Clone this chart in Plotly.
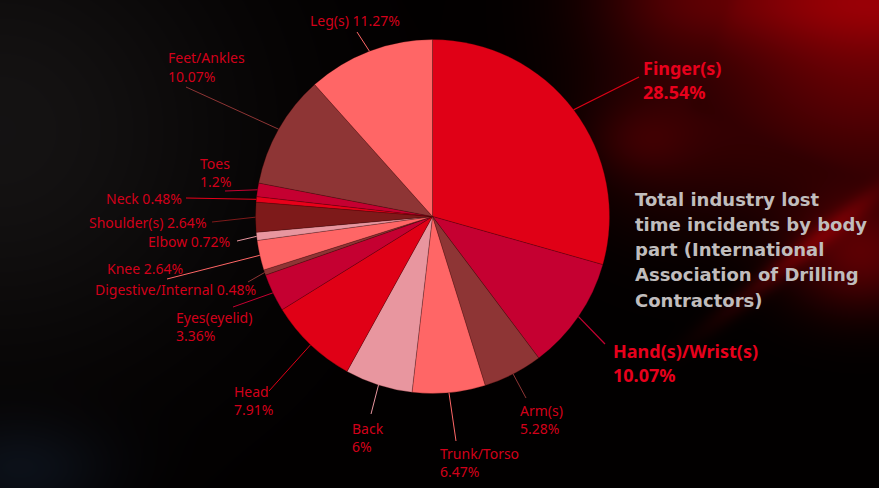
import base64, struct, zlib
import numpy as np
import plotly.graph_objects as go

# ---------------- data ----------------
labels = ["Finger(s)", "Hand(s)/Wrist(s)", "Arm(s)", "Trunk/Torso", "Back", "Head",
          "Eyes(eyelid)", "Digestive/Internal", "Knee", "Elbow", "Shoulder(s)", "Neck",
          "Toes", "Feet/Ankles", "Leg(s)"]
values = [28.54, 10.07, 5.28, 6.47, 6.0, 7.91, 3.36, 0.48, 2.64, 0.72, 2.64, 0.48, 1.2, 10.07, 11.27]
value_text = ["28.54%", "10.07%", "5.28%", "6.47%", "6%", "7.91%", "3.36%", "0.48%",
              "2.64%", "0.72%", "2.64%", "0.48%", "1.2%", "10.07%", "11.27%"]
title_lines = ["Total industry lost", "time incidents by body", "part (International",
               "Association of Drilling", "Contractors)"]

# ---------------- styles / layout ----------------
W, H = 879, 488
RED, CRIMSON, BROWN, SALMON, PINK, MAROON = "#E00016", "#C50031", "#8E3535", "#FF6666", "#E8969F", "#7E1A1A"
slice_colors = [RED, CRIMSON, BROWN, SALMON, PINK, RED, CRIMSON, BROWN, SALMON, PINK,
                MAROON, "#E8001A", CRIMSON, BROWN, SALMON]
CX, CY, R = 432.5, 216.5, 177.0

# label layout: (left x px, first-line middle y px, two-line?, leader end x, leader end y, bold)
label_layout = [
    (642, 68, True, 639, 77, True),     # Finger
    (612, 351, True, 605, 344, True),   # Hand
    (519, 410, True, 526, 398, False),  # Arm
    (439, 453, True, 456, 441, False),  # Trunk
    (351, 428, True, 371, 414, False),  # Back
    (233, 391, True, 269, 391, False),  # Head
    (175, 317, True, 233, 307, False),  # Eyes
    (94, 289, False, 248, 282, False),  # Digestive
    (106, 268, False, 167, 279, False), # Knee
    (147, 241, False, 237, 241, False), # Elbow
    (88, 222, False, 212, 222, False),  # Shoulder
    (105, 198, False, 186, 198, False), # Neck
    (199, 163, True, 225, 191, False),  # Toes
    (167, 58, True, 186, 87, False),    # Feet
    (309, 20, False, 357, 32, False),   # Leg
]


def px2paper(x, y):
    return x / W, 1 - y / H


# ---------------- background image ----------------
def make_png(arr):
    h, w, _ = arr.shape
    raw = b"".join(b"\x00" + arr[i].tobytes() for i in range(h))

    def chunk(t, d):
        return struct.pack(">I", len(d)) + t + d + struct.pack(">I", zlib.crc32(t + d) & 0xFFFFFFFF)

    return (b"\x89PNG\r\n\x1a\n" + chunk(b"IHDR", struct.pack(">IIBBBBB", w, h, 8, 2, 0, 0, 0))
            + chunk(b"IDAT", zlib.compress(raw, 9)) + chunk(b"IEND", b""))


def sig(z):
    return 1 / (1 + np.exp(-z))


yy, xx = np.mgrid[0:H, 0:W].astype(float)
red = np.full((H, W), 2.0)
gray = 19 * np.exp(-(xx / 240) ** 2 - ((yy - 130) / 230) ** 2)
blue = 16 * np.exp(-((xx - 20) / 90) ** 2 - ((yy - 470) / 50) ** 2)
# dark red haze upper right
red += 55 * sig((xx - 610) / 35) * sig((205 - yy) / 30)
red += 45 * np.exp(-(yy / 45) ** 2) * sig((xx - 640) / 30)
# darker wedge with bright interior toward the corner
edge_x = 732 - yy * (732 - 688) / 108
line_y = 108 + (xx - 688) * (183 - 108) / (879 - 688)
wedge = sig((xx - edge_x) / 4) * sig((line_y - yy) / 4)
red -= 22 * wedge
red += wedge * 75 * np.exp(-(((xx - 870) ** 2 + (yy - 20) ** 2) / 150 ** 2))
# glow right middle
red += 80 * np.exp(-((xx - 860) / 70) ** 2 - ((yy - 255) / 55) ** 2)
diag = (yy - 300) + (xx - 740) * (110 / 140)
red += 55 * np.exp(-(diag / 14) ** 2) * np.exp(-((xx - 800) / 80) ** 2)
red += 25 * np.exp(-((xx - 640) / 50) ** 2 - ((yy - 140) / 35) ** 2)
red = np.clip(red, 0, None)
rch = np.clip(red + gray + blue * 0.5, 0, 255)
gch = np.clip(gray + blue * 0.9, 0, 255)
bch = np.clip(gray + blue * 1.4 + red * 0.04, 0, 255)
img = np.stack([rch, gch, bch], axis=-1).astype(np.uint8)
bg_uri = "data:image/png;base64," + base64.b64encode(make_png(img)).decode()

# ---------------- figure ----------------
x0, y0 = px2paper(CX - R, CY + R)
x1, y1 = px2paper(CX + R, CY - R)

fig = go.Figure(go.Pie(
    labels=labels, values=values, sort=False, direction="clockwise", rotation=0,
    textinfo="none", hoverinfo="label+percent",
    marker=dict(colors=slice_colors, line=dict(color="rgba(60,0,0,0.45)", width=0.6)),
    domain=dict(x=[x0, x1], y=[y0, y1]), showlegend=False,
))

total = sum(values)
cum = 0.0
shapes, annotations = [], []


def add_text(x, y, text, size, color, family, bold=False):
    p = px2paper(x, y)
    annotations.append(dict(
        x=p[0], y=p[1], xref="paper", yref="paper", xanchor="left", yanchor="middle",
        text=f"<b>{text}</b>" if bold else text, showarrow=False, align="left", borderpad=0,
        font=dict(family=family, size=size, color=color),
    ))


for i, (lab, v, vt) in enumerate(zip(labels, values, value_text)):
    mid = (cum + v / 2) / total
    cum += v
    th = 2 * np.pi * mid
    ex, ey = CX + R * np.sin(th), CY - R * np.cos(th)
    lx, ly, two, lex, ley, bold = label_layout[i]
    pa = px2paper(ex, ey)
    pb = px2paper(lex, ley)
    shapes.append(dict(type="line", xref="paper", yref="paper", x0=pa[0], y0=pa[1], x1=pb[0], y1=pb[1],
                       line=dict(color=slice_colors[i], width=1.2 if bold else 1)))
    if bold:
        add_text(lx, ly, lab, 18, "#E8001C", "Noto Sans", True)
        add_text(lx, ly + 23.6, vt, 18, "#E8001C", "Noto Sans", True)
    elif two:
        add_text(lx, ly, lab, 14, "#D2001A", "Noto Sans")
        add_text(lx, ly + 18.3, vt, 14, "#D2001A", "Noto Sans")
    else:
        add_text(lx, ly, f"{lab} {vt}", 14, "#D2001A", "Noto Sans")

for k, line in enumerate(title_lines):
    add_text(634, 199 + 25.3 * k, line, 18, "#C0BDBD", "DejaVu Sans", True)

fig.update_layout(
    width=W, height=H, margin=dict(l=0, r=0, t=0, b=0),
    paper_bgcolor="#050505", plot_bgcolor="#050505",
    shapes=shapes, annotations=annotations,
    images=[dict(source=bg_uri, xref="paper", yref="paper", x=0, y=1, sizex=1, sizey=1,
                 sizing="stretch", layer="below", xanchor="left", yanchor="top")],
)
fig.write_html("out.html", config={"displayModeBar": False},
               post_script="document.body.style.margin='0';document.body.style.background='#000';")
